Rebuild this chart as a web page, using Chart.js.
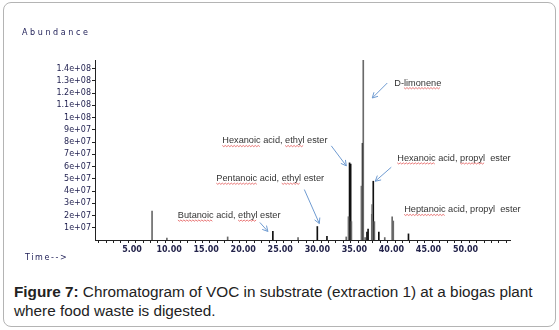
<!DOCTYPE html>
<html>
<head>
<meta charset="utf-8">
<script src="https://cdn.jsdelivr.net/npm/chart.js@4.4.1/dist/chart.umd.min.js"></script>
<style>
  body { margin: 0; background: #fff; }
  #frame { position: absolute; left: 3px; top: 2px; width: 551px; height: 323px; border: 1px solid #b4b4b4; border-radius: 8px; }
  #chart { position: absolute; left: 0; top: 0; }
  #caption { position: absolute; left: 14px; top: 282px; width: 538px; font: 15.3px "Liberation Sans", Arial, sans-serif; line-height: 19px; color: #222; }
</style>
</head>
<body>
<div id="frame"></div>
<canvas id="chart" width="559" height="275"></canvas>
<div id="caption"><b>Figure 7:</b> Chromatogram of VOC in substrate (extraction 1) at a biogas plant where food waste is digested.</div>
<script>
// retention time (min) / abundance of the darker peaks
const darkTimes   = [24.0, 30.0, 31.3, 34.35, 34.5, 36.1, 36.7, 36.85, 37.55, 38.3, 42.3];
const darkHeights = [0.7e7, 1.1e7, 0.3e7, 6.3e7, 6.2e7, 7.9e7, 0.65e7, 0.9e7, 4.8e7, 0.65e7, 0.5e7];

// lighter (grey) peaks and shoulders
const greyTimes   = [7.7, 9.7, 17.9, 27.4, 33.9, 34.2, 34.6, 35.95, 36.2, 36.45, 37.35, 37.4, 37.7, 39.1, 40.1, 40.25];
const greyHeights = [2.36e7, 0.15e7, 0.25e7, 0.2e7, 0.25e7, 1.9e7, 1.5e7, 4.4e7, 14.7e7, 0.2e7, 2.1e7, 2.9e7, 1.5e7, 0.2e7, 1.9e7, 1.55e7];

// identified compounds
const compoundNames   = ['Butanoic acid, ethyl ester', 'Pentanoic acid, ethyl ester', 'Hexanoic acid, ethyl ester',
                         'D-limonene', 'Hexanoic acid, propyl  ester', 'Heptanoic acid, propyl  ester'];
const compoundTimes   = [24.0, 30.0, 34.45, 36.2, 37.55, 40.1];
const compoundHeights = [0.7e7, 1.1e7, 6.3e7, 14.7e7, 4.8e7, 1.9e7];

const yTickValues = [1e7, 2e7, 3e7, 4e7, 5e7, 6e7, 7e7, 8e7, 9e7, 1e8, 1.1e8, 1.2e8, 1.3e8, 1.4e8];
const yTickLabels = ['1e+07', '2e+07', '3e+07', '4e+07', '5e+07', '6e+07', '7e+07', '8e+07', '9e+07',
                     '1e+08', '1.1e+08', '1.2e+08', '1.3e+08', '1.4e+08'];
const xTickValues = [5, 10, 15, 20, 25, 30, 35, 40, 45, 50];
const xTickLabels = ['5.00', '10.00', '15.00', '20.00', '25.00', '30.00', '35.00', '40.00', '45.00', '50.00'];

// label placement relative to the top of each compound's peak (px)
const labelLayout = [
  { text: [-95, -16], tail: [-13, -9],  tip: [-5, 0],  wavy: ['Butanoic', 'ethyl'] },
  { text: [-101, -48], tail: [-13, -37], tip: [2, -3], wavy: ['Pentanoic', 'ethyl'] },
  { text: [-128, -22], tail: [-19, -17], tip: [-4, 3], wavy: ['Hexanoic', 'ethyl'] },
  { text: [31, 23],   tail: [24, 23],   tip: [9, 38],  wavy: ['limonene'] },
  { text: [24, -23],  tail: [18, -14],  tip: [2, 0],   wavy: ['Hexanoic', 'propyl'] },
  { text: [12, -7],   tail: null,       tip: null,     wavy: ['Heptanoic'] }
];

const toPoints = (xs, ys) => xs.map((x, i) => ({ x: x, y: ys[i] }));

function wavy(ctx, x0, x1, y) {
  ctx.beginPath();
  for (let x = x0, k = 0; x <= x1; x += 1.5, k++) {
    const yy = y + (k % 2 ? 0.8 : -0.4);
    if (k === 0) ctx.moveTo(x, yy); else ctx.lineTo(x, yy);
  }
  ctx.stroke();
}

const labelsPlugin = {
  id: 'labels',
  afterDraw(chart) {
    const ctx = chart.ctx;
    const xs = chart.scales.x, ys = chart.scales.y;
    ctx.save();

    // axis titles
    ctx.fillStyle = '#23235a';
    ctx.font = '8px "DejaVu Sans"';
    ctx.textBaseline = 'middle';
    ctx.textAlign = 'left';
    ctx.letterSpacing = '2.6px';
    ctx.fillText('Abundance', 22, 33);
    ctx.letterSpacing = '1.6px';
    ctx.fillText('Time-->', 25, 258);
    ctx.letterSpacing = '0px';

    ctx.font = '9.2px "Liberation Sans", Arial, sans-serif';
    compoundNames.forEach((name, i) => {
      const lay = labelLayout[i];
      const px = xs.getPixelForValue(compoundTimes[i]);
      const py = ys.getPixelForValue(compoundHeights[i]);
      const tx = px + lay.text[0], ty = py + lay.text[1];
      ctx.fillStyle = '#333';
      ctx.fillText(name, tx, ty);

      ctx.strokeStyle = '#e04040';
      ctx.lineWidth = 0.7;
      lay.wavy.forEach(w => {
        const at = name.indexOf(w);
        const a = tx + ctx.measureText(name.slice(0, at)).width;
        const b = a + ctx.measureText(w).width;
        wavy(ctx, a, b, ty + 5);
      });

      if (lay.tail) {
        const x0 = px + lay.tail[0], y0 = py + lay.tail[1];
        const x1 = px + lay.tip[0], y1 = py + lay.tip[1];
        const ang = Math.atan2(y1 - y0, x1 - x0);
        ctx.strokeStyle = '#6f9bd1';
        ctx.lineWidth = 1;
        ctx.beginPath();
        ctx.moveTo(x0, y0);
        ctx.lineTo(x1, y1);
        [-0.5, 0.5].forEach(d => {
          ctx.moveTo(x1, y1);
          ctx.lineTo(x1 - 6 * Math.cos(ang + d), y1 - 6 * Math.sin(ang + d));
        });
        ctx.stroke();
      }
    });
    ctx.restore();
  }
};

new Chart(document.getElementById('chart'), {
  type: 'bar',
  data: {
    datasets: [
      { data: toPoints(greyTimes, greyHeights), backgroundColor: '#6a6a6a' },
      { data: toPoints(darkTimes, darkHeights), backgroundColor: '#111' }
    ]
  },
  options: {
    responsive: false,
    animation: false,
    devicePixelRatio: 1,
    grouped: false,
    barThickness: 1,
    layout: { padding: { left: 0, right: 49, top: 60, bottom: 0 } },
    plugins: { legend: { display: false }, tooltip: { enabled: false } },
    scales: {
      x: {
        type: 'linear',
        offset: false,
        min: 0,
        max: 56,
        afterFit: s => { s.height = 35; },
        afterBuildTicks: s => {
          const t = [];
          for (let m = 1; m <= 55; m++) t.push({ value: m });
          s.ticks = t;
        },
        border: { display: true, color: '#222', width: 1 },
        grid: { display: true, drawOnChartArea: false, tickLength: 3, color: '#222' },
        ticks: {
          autoSkip: false,
          maxRotation: 0,
          padding: 2,
          color: '#23234a',
          font: { family: 'DejaVu Sans', size: 8, weight: 'bold' },
          callback: v => {
            const i = xTickValues.indexOf(v);
            return i >= 0 ? xTickLabels[i] : '';
          }
        }
      },
      y: {
        min: 0,
        max: 1.47e8,
        afterFit: s => { s.width = 95; },
        afterBuildTicks: s => { s.ticks = yTickValues.map(v => ({ value: v })); },
        border: { display: true, color: '#222', width: 1, dash: [1, 1.5] },
        grid: { display: true, drawOnChartArea: false, tickLength: 3, color: '#222' },
        ticks: {
          autoSkip: false,
          padding: 1,
          color: '#1d1d4d',
          font: { family: 'DejaVu Sans', size: 8 },
          callback: (v, i) => yTickLabels[i]
        }
      }
    }
  },
  plugins: [labelsPlugin]
});
</script>
</body>
</html>
